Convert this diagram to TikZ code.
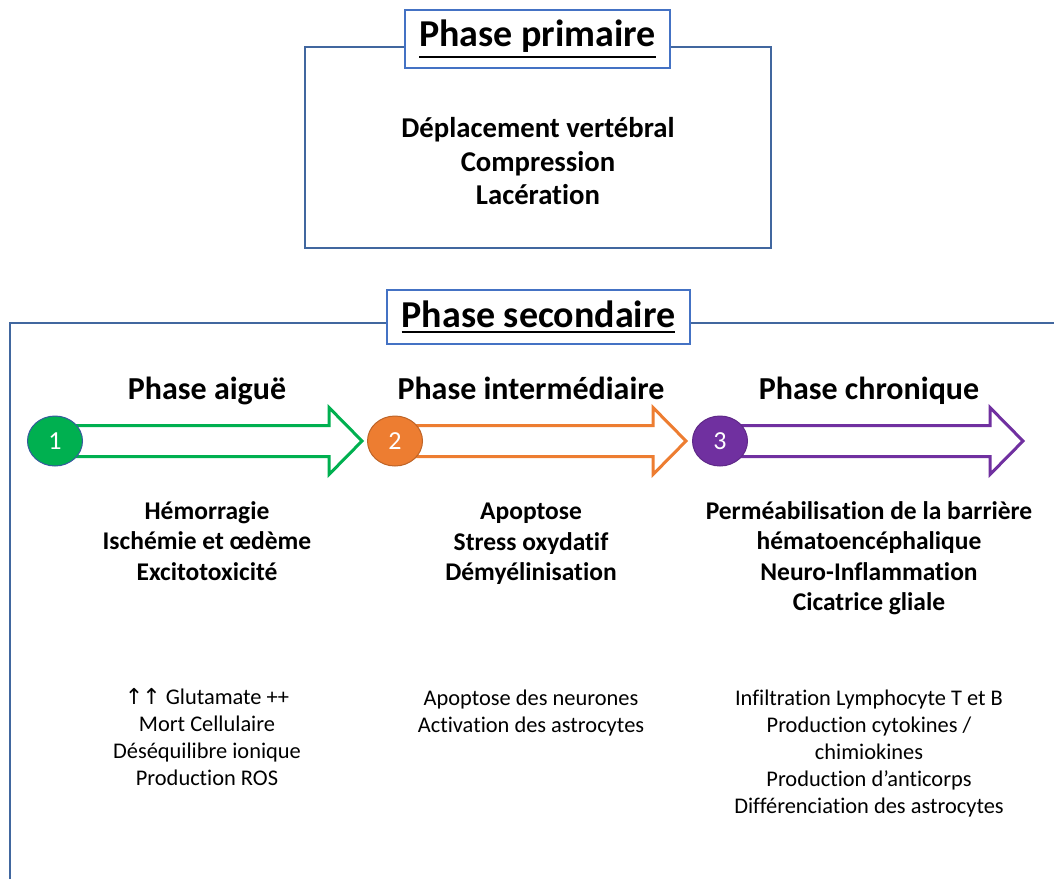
\documentclass[tikz,border=0pt]{standalone}
\usepackage{fontspec}
\setmainfont[Ligatures=NoCommon]{Carlito}
\newfontfamily\arrowfont{DejaVu Sans}
\usetikzlibrary{calc,shapes.geometric,backgrounds}

\definecolor{framecol}{HTML}{41679F}
\definecolor{titlecol}{HTML}{4472C4}
\definecolor{aigue}{HTML}{00B050}
\definecolor{inter}{HTML}{ED7D31}
\definecolor{chron}{HTML}{7030A0}
\newcommand\titleul[1]{\leavevmode\vtop{\hbox{#1}\kern3.5pt\hrule height 2.2pt}}

\begin{document}
\begin{tikzpicture}[x=1pt, y=-1pt,
    frame/.style={draw=framecol, line width=1.3pt},
    titlebox/.style={draw=titlecol, line width=1.3pt, fill=white, inner sep=0pt,
        font=\fontsize{38}{42}\selectfont\bfseries},
    phasetitle/.style={anchor=base, font=\fontsize{32}{36}\selectfont\bfseries},
    mainlist/.style={align=center, inner sep=0pt, font=\fontsize{25.5}{30.5}\selectfont\bfseries},
    sublist/.style={align=center, inner sep=0pt, font=\fontsize{22.4}{27}\selectfont},
    num/.style={ellipse, minimum width=55pt, minimum height=50pt, inner sep=0pt,
        line width=1pt, text=white, font=\fontsize{26}{30}\selectfont},
    flow/.style={line width=3pt, fill=white, line join=miter}]
    \useasboundingbox (0,0) rectangle (1054,879);

    % phase primaire
    \node[frame, minimum width=466pt, minimum height=201pt, inner sep=0pt] (prim) at (538,147.5) {};
    \node[titlebox, minimum width=265pt, minimum height=58pt] (primtitle) at (537.5,39) {\titleul{Phase primaire}};
    \node[align=center, inner sep=0pt, font=\fontsize{28.7}{33.5}\selectfont\bfseries] (primtext) at (538,161.5)
        {Déplacement vertébral\\Compression\\Lacération};

    % phase secondaire
    \coordinate (corner) at (10,323);
    \draw[frame] (10,879) -- (corner) -- (1054,323);
    \node[titlebox, minimum width=303pt, minimum height=54pt] (sectitle) at (538.5,317) {\titleul{Phase secondaire}};

    \node[num, fill=aigue, draw=titlecol!80!black] (c1) at (55,441) {1};
    \node[num, fill=inter, draw=inter!80!black] (c2) at (395,441) {2};
    \node[num, fill=chron, draw=chron!85!black] (c3) at (720,441) {3};
    \coordinate (t1) at ($(c2.west)+(-5,0)$);
    \coordinate (t2) at ($(c3.west)+(-6,0)$);
    \coordinate (t3) at (1023,441);

    % fleches
    \begin{scope}[on background layer]
    \foreach \from/\tip/\col in {c1/t1/aigue, c2/t2/inter, c3/t3/chron}
        \draw[flow, draw=\col] ($(\from)+(0,-15.5)$) -- ($(\tip)+(-33,-15.5)$) -- ($(\tip)+(-33,-33.5)$)
            -- (\tip) -- ($(\tip)+(-33,33.5)$) -- ($(\tip)+(-33,15.5)$) -- ($(\from)+(0,15.5)$) -- cycle;
    \end{scope}

    \node[phasetitle] (aiguetitle) at (207,399) {Phase aiguë};
    \node[phasetitle] (intertitle) at (531,399) {Phase intermédiaire};
    \node[phasetitle] (chrontitle) at (869,399) {Phase chronique};

    \node[mainlist] (aiguelist) at (207,541) {Hémorragie\\Ischémie et œdème\\Excitotoxicité};
    \node[mainlist] (interlist) at (531,544) {Apoptose\\Stress oxydatif\\Démyélinisation};
    \node[mainlist] (chronlist) at (869,558) {Perméabilisation de la barrière\\hématoencéphalique\\Neuro-Inflammation\\Cicatrice gliale};

    \node[sublist] (aiguesub) at (207,737.5) {{\arrowfont\fontsize{22}{27}\selectfont ↑\kern-1pt↑} Glutamate ++\\Mort Cellulaire\\Déséquilibre ionique\\Production ROS};
    \node[sublist] (intersub) at (531,713.5) {Apoptose des neurones\\Activation des astrocytes};
    \node[sublist] (chronsub) at (869,754) {Infiltration Lymphocyte T et B\\Production cytokines /\\chimiokines\\Production d’anticorps\\Différenciation des astrocytes};
\end{tikzpicture}
\end{document}
